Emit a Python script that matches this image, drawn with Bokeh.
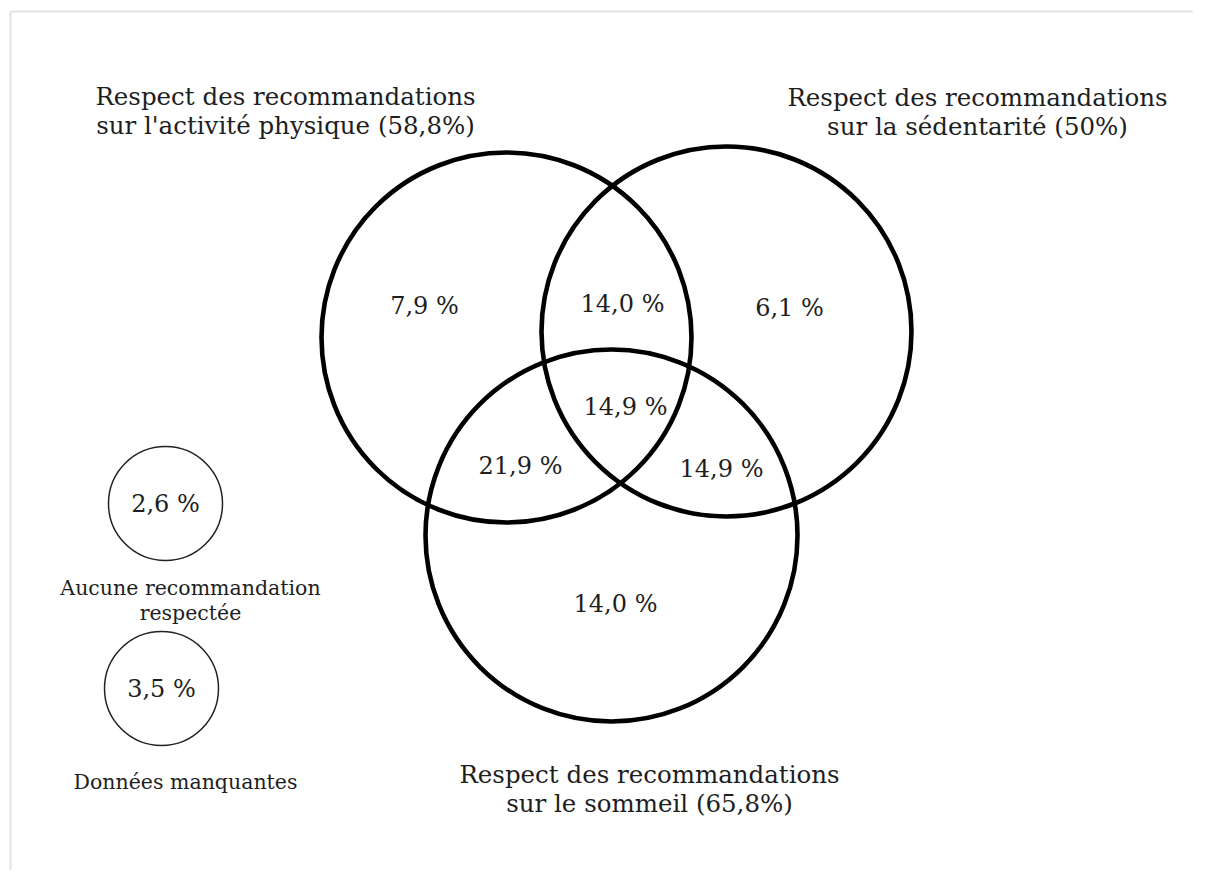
from bokeh.plotting import figure
from bokeh.models import Range1d, ColumnDataSource
from bokeh.core.properties import value
from bokeh.embed import file_html
from bokeh.resources import INLINE

# ---------------- data ----------------
set_titles_l1 = ["Respect des recommandations",
                 "Respect des recommandations",
                 "Respect des recommandations"]
set_titles_l2 = ["sur l'activité physique (58,8%)",
                 "sur la sédentarité (50%)",
                 "sur le sommeil (65,8%)"]
region_labels = ["7,9 %", "14,0 %", "6,1 %", "14,9 %", "21,9 %", "14,9 %", "14,0 %"]
extra_values = ["2,6 %", "3,5 %"]
extra_names_l1 = ["Aucune recommandation", "Données manquantes"]
extra_names_l2 = ["respectée", ""]

# ---------------- layout (screen pixels) ----------------
circ_x = [506, 726, 611]
circ_y = [337, 331, 535]
circ_r = [185, 185, 186]

title_x = [285, 977, 649]
title_y1 = [96, 97, 774]
title_y2 = [125, 126, 803]

region_x = [424, 622, 789, 625, 520, 721, 615]
region_y = [305, 303, 307, 406, 465, 468, 603]

small_x = [165, 161]
small_y = [503, 688]
small_r = [57, 57]
small_name_x = [190, 185]
small_name_y1 = [587, 781]
small_name_y2 = [612, 806]

W, H = 1193, 870
p = figure(width=W, height=H, output_backend="svg", toolbar_location=None,
           x_range=Range1d(0, W), y_range=Range1d(H, 0),
           min_border=0, outline_line_color=None)
p.axis.visible = False
p.grid.visible = False
p.background_fill_color = "white"
p.border_fill_color = "white"

# faint frame of the original image
p.segment(x0=[10, 10], y0=[11, 11], x1=[1209, 10], y1=[11, 886],
          line_color="#e2e2e2", line_width=2)

FONT = value("DejaVu Serif")
INK = "#1e1e1e"

p.circle(x=circ_x, y=circ_y, radius=circ_r, fill_color=None,
         line_color="black", line_width=4.6)
p.circle(x=small_x, y=small_y, radius=small_r, fill_color=None,
         line_color="#222222", line_width=1.5)

src_t = ColumnDataSource(dict(x=title_x, y1=title_y1, y2=title_y2,
                              l1=set_titles_l1, l2=set_titles_l2))
for yk, tk in (("y1", "l1"), ("y2", "l2")):
    p.text(x="x", y=yk, text=tk, source=src_t, text_font=FONT,
           text_font_size="24.5px", text_align="center",
           text_baseline="middle", text_color=INK)

p.text(x=region_x, y=region_y, text=region_labels, text_font=FONT,
       text_font_size="24px", text_align="center", text_baseline="middle",
       text_color=INK)
p.text(x=small_x, y=small_y, text=extra_values, text_font=FONT,
       text_font_size="24px", text_align="center", text_baseline="middle",
       text_color=INK)
p.text(x=small_name_x, y=small_name_y1, text=extra_names_l1, text_font=FONT,
       text_font_size="20.5px", text_align="center", text_baseline="middle",
       text_color=INK)
p.text(x=small_name_x, y=small_name_y2, text=extra_names_l2, text_font=FONT,
       text_font_size="20.5px", text_align="center", text_baseline="middle",
       text_color=INK)

open("out.html", "w").write(file_html(p, INLINE))
